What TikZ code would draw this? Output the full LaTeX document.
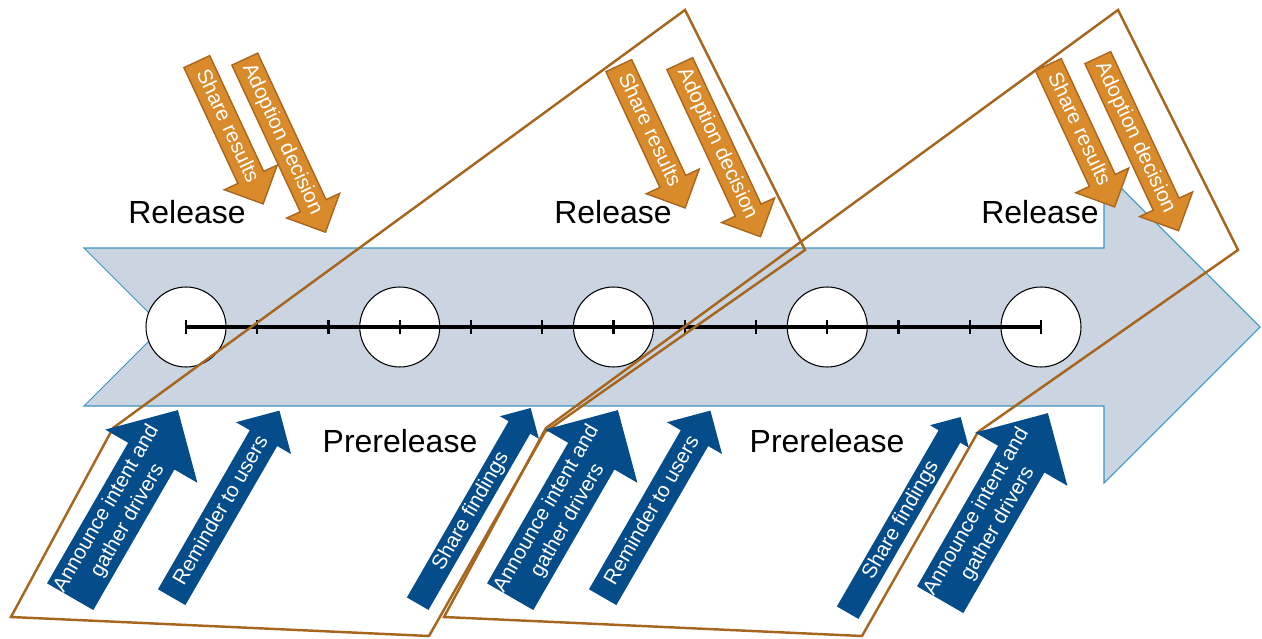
\documentclass[tikz,border=0pt]{standalone}
\usepackage{fontspec}
\setmainfont{Liberation Sans}
\usetikzlibrary{shapes.arrows}

\definecolor{chevronfill}{HTML}{CAD5E1}
\definecolor{chevronline}{HTML}{3A93C3}
\definecolor{orangefill}{HTML}{D98B2B}
\definecolor{orangeline}{HTML}{A9661C}
\definecolor{bluefill}{HTML}{044C8A}
\definecolor{framebrown}{HTML}{A6661E}

\tikzset{
  milestone/.style={circle, draw=black, fill=white, line width=0.6pt, minimum size=1.6cm, inner sep=0pt},
  phase/.style={font=\fontsize{18.2}{20}\selectfont},
  blockarrow/.style={single arrow, anchor=tail, text=white, font=\fontsize{11.8}{14}\selectfont,
    inner xsep=1pt, single arrow tip angle=90},
  resultarrow/.style={blockarrow, fill=orangefill, draw=orangeline, line width=0.8pt,
    text height=8.9pt, text depth=2.7pt, inner ysep=1.9pt, single arrow head extend=0.3cm, rotate=-65},
  userarrow/.style={blockarrow, fill=bluefill, rotate=60},
  announcearrow/.style={userarrow, align=center, inner xsep=-4pt, inner ysep=2.5pt,
    single arrow head extend=0.53cm, minimum height=4.31cm},
  reminderarrow/.style={userarrow, text height=8.9pt, text depth=2.7pt, inner ysep=3pt,
    single arrow head extend=0.32cm, minimum height=4.31cm},
  findingsarrow/.style={userarrow, text height=8.9pt, text depth=2.7pt, inner ysep=1.1pt,
    single arrow head extend=0.2cm, minimum height=4.52cm},
  groupframe/.style={draw=framebrown, line width=1.4pt},
}

\begin{document}
\begin{tikzpicture}[x=0.02cm, y=-0.02cm]
\useasboundingbox (0,0) rectangle (1262,639);

% the big arrow
\draw[chevronline, fill=chevronfill, line width=0.6pt] (84,248) -- (1104,248) -- (1104,171) -- (1260,327)
  -- (1104,483) -- (1104,406) -- (84,406) -- (163,327) -- cycle;

% milestones and timeline
\foreach \i in {1,...,5}
  \node[milestone] (m\i) at ({186+(\i-1)*213.75},327) {};
\draw[line width=1.9pt] (m1.center) -- (m5.center);
\foreach \k in {0,...,12}
  \draw[line width=1.3pt] ({186+\k*71.25},320) -- ({186+\k*71.25},334);

% cycle frames
\foreach \dx in {0,433}
  \draw[groupframe, shift={(\dx,0)}] (11,617) -- (113,428) -- (685,10) -- (805,250) -- (545,432) -- (429,636) -- cycle;

\node[phase] (rel1) at (187,212) {Release};
\node[phase] (rel2) at (613,212) {Release};
\node[phase] (rel3) at (1040,212) {Release};
\node[phase] (pre1) at (400,441) {Prerelease};
\node[phase] (pre2) at (827,441) {Prerelease};

% release side
\node[resultarrow, minimum height=3.14cm] (share1) at (196.5,61) {Share results};
\node[resultarrow, minimum height=3.82cm] (adopt1) at (244.5,58.5) {Adoption decision};
\node[resultarrow, minimum height=3.14cm] (share2) at (618.5,65) {Share results};
\node[resultarrow, minimum height=3.82cm] (adopt2) at (679.5,63) {Adoption decision};
\node[resultarrow, minimum height=3.14cm] (share3) at (1048,64) {Share results};
\node[resultarrow, minimum height=3.82cm] (adopt3) at (1097.5,57) {Adoption decision};

% prerelease side
\node[announcearrow] (announce1) at (70,597) {Announce intent and\\gather drivers};
\node[reminderarrow] (remind1) at (171.5,597.5) {Reminder to users};
\node[findingsarrow] (findings1) at (417.5,604) {Share findings};
\node[announcearrow] (announce2) at (510,597) {Announce intent and\\gather drivers};
\node[reminderarrow] (remind2) at (602.5,597.5) {Reminder to users};
\node[findingsarrow] (findings2) at (847.5,613) {Share findings};
\node[announcearrow] (announce3) at (940,600) {Announce intent and\\gather drivers};
\end{tikzpicture}
\end{document}
